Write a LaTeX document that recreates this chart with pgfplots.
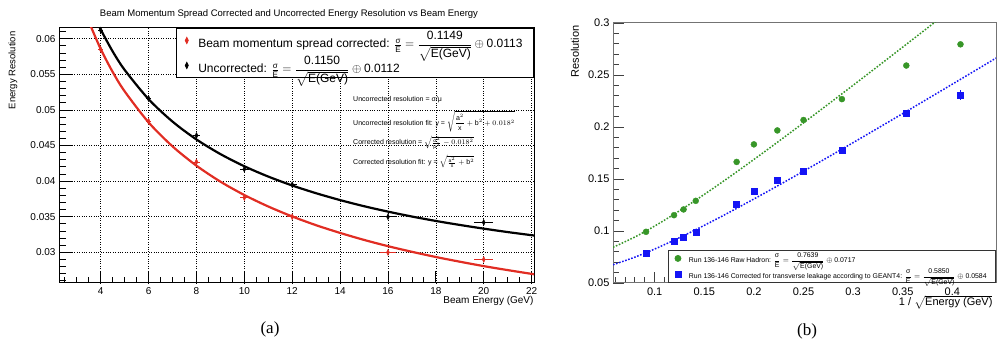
\documentclass[border=0pt]{standalone}
\usepackage{amsmath}
\usepackage{pgfplots}
\pgfplotsset{compat=1.18}
\usepackage{fontspec}
\setmainfont{Liberation Sans}
\newfontfamily\capfont{Liberation Serif}
\definecolor{rred}{RGB}{225,45,35}
\definecolor{ggreen}{RGB}{55,150,40}
\definecolor{bblue}{RGB}{20,20,245}
\newcommand{\fsz}[1]{\fontsize{#1}{#1}\selectfont}

\pgfplotstableread{
x y ex ey
4 0.0585 0.10 0.0004
6 0.0484 0.10 0.0003
8 0.0427 0.15 0.0003
10 0.0377 0.20 0.0003
12 0.0350 0.20 0.0002
16 0.0300 0.35 0.0002
20 0.0290 0.40 0.0002
}\corrdata
\pgfplotstableread{
x y ex ey
4 0.0612 0.10 0.0004
6 0.0516 0.10 0.0003
8 0.0464 0.15 0.0004
10 0.0417 0.20 0.0003
12 0.0395 0.20 0.0002
16 0.0350 0.35 0.0002
20 0.0342 0.40 0.0002
}\uncorrdata
\pgfplotstableread{
x y ey
0.0913 0.0992 0.0010
0.1195 0.1152 0.0010
0.1291 0.1207 0.0010
0.1414 0.1290 0.0010
0.1826 0.1664 0.0010
0.2000 0.1833 0.0010
0.2236 0.1967 0.0010
0.2500 0.2067 0.0012
0.2887 0.2268 0.0015
0.3536 0.2591 0.0015
0.4082 0.2795 0.0015
}\rawdata
\pgfplotstableread{
x y ey
0.0913 0.0788 0.0010
0.1195 0.0900 0.0010
0.1291 0.0938 0.0010
0.1414 0.0992 0.0010
0.1826 0.1258 0.0012
0.2000 0.1379 0.0012
0.2236 0.1488 0.0015
0.2500 0.1577 0.0015
0.2887 0.1776 0.0020
0.3536 0.2130 0.0030
0.4082 0.2309 0.0050
}\leakdata

\begin{document}
\begin{tikzpicture}[x=1pt,y=1pt]
\useasboundingbox (0,0) rectangle (997,347);

% ---------------- panel (a)
\begin{axis}[
  at={(60pt,64pt)}, anchor=south west,
  scale only axis, width=474pt, height=255pt,
  xmin=2.3, xmax=22.1, ymin=0.0257, ymax=0.0615,
  scaled x ticks=false, scaled y ticks=false,
  xtick={4,6,8,10,12,14,16,18,20,22},
  xticklabels={4,6,8,10,12,14,16,18,20,22},
  minor xtick={2.5,3,...,22},
  ytick={0.03,0.035,0.04,0.045,0.05,0.055,0.06},
  yticklabels={0.03,0.035,0.04,0.045,0.05,0.055,0.06},
  minor ytick={0.026,0.027,0.028,0.029,0.031,0.032,0.033,0.034,0.036,0.037,0.038,0.039,0.041,0.042,0.043,0.044,0.046,0.047,0.048,0.049,0.051,0.052,0.053,0.054,0.056,0.057,0.058,0.059,0.061},
  xtick pos=bottom, ytick pos=left,
  tick align=inside,
  major tick length=12pt, minor tick length=6pt,
  every tick/.style={black, line width=0.8pt},
  axis line style={black, line width=1pt},
  grid=major, major grid style={black, dotted, line width=0.7pt},
  tick label style={font=\fsz{10}},
  yticklabel style={xshift=-1pt},
  xticklabel style={yshift=-1pt},
  legend cell align=left,
  legend style={at={(rel axis cs:1,1)}, anchor=north east, draw=black,
    line width=0.9pt, fill=white, font=\fsz{12}, row sep=3pt,
    inner xsep=9pt, inner ysep=1pt,
    /tikz/every odd column/.append style={column sep=8pt}},
]
\addplot[rred, line width=2.2pt, smooth, forget plot] coordinates {
(3.55,0.06202)(4,0.05855)(4.5,0.05533)(5,0.05261)(6,0.04825)(7,0.04488)(8,0.04217)
(9,0.03993)(10,0.03805)(11,0.03644)(12,0.03504)(13,0.03381)(14,0.03273)(15,0.03175)
(16,0.03087)(17,0.03008)(18,0.02935)(19,0.02869)(20,0.02807)(21,0.02751)(22,0.02698)(22.1,0.02693)};
\addplot[black, line width=2.2pt, smooth, forget plot] coordinates {
(3.9,0.06197)(4,0.06128)(4.5,0.05821)(5,0.05562)(6,0.05151)(7,0.04836)(8,0.04585)
(9,0.04380)(10,0.04209)(11,0.04064)(12,0.03939)(13,0.03830)(14,0.03734)(15,0.03648)
(16,0.03572)(17,0.03503)(18,0.03441)(19,0.03385)(20,0.03333)(21,0.03285)(22,0.03241)(22.1,0.03237)};
\addplot[only marks, rred, mark=diamond*, mark size=3pt, mark options={xscale=0.65},
  error bars/.cd, x dir=both, x explicit, y dir=both, y explicit,
  error mark=none, error bar style={rred, line width=0.7pt}]
  table[x=x, y=y, x error=ex, y error=ey] {\corrdata};
\addlegendentry{Beam momentum spread corrected: $\frac{\text{σ}}{\text{E}}=\dfrac{\text{0.1149}}{\sqrt{\text{E(GeV)}}}\oplus\text{0.0113}$}
\addplot[only marks, black, mark=diamond*, mark size=3pt, mark options={xscale=0.65},
  error bars/.cd, x dir=both, x explicit, y dir=both, y explicit,
  error mark=none, error bar style={black, line width=0.7pt}]
  table[x=x, y=y, x error=ex, y error=ey] {\uncorrdata};
\addlegendentry{Uncorrected: $\frac{\text{σ}}{\text{E}}=\dfrac{\text{0.1150}}{\sqrt{\text{E(GeV)}}}\oplus\text{0.0112}$}
\end{axis}

\node[font=\fsz{9.5}] at (289,333) {Beam Momentum Spread Corrected and Uncorrected Energy Resolution vs Beam Energy};
\node[font=\fsz{9.5}, rotate=90, anchor=east] at (13,319) {Energy Resolution};
\node[font=\fsz{10}, anchor=east] at (537,46.3) {Beam Energy (GeV)};
\begin{scope}[every node/.style={font=\fsz{7}, anchor=west, inner sep=0pt}]
\node at (353,247.7) {Uncorrected resolution = σ/μ};
\node at (353,225.3) {Uncorrected resolution fit: y = $\sqrt{\dfrac{\text{a}^2}{\text{x}}+\text{b}^2+0.018^2}$};
\node at (353,204.3) {Corrected resolution = $\sqrt{\frac{\text{σ}^2}{\text{μ}^2}-0.018^2}$};
\node at (353,185.3) {Corrected resolution fit: y = $\sqrt{\frac{\text{a}^2}{\text{x}}+\text{b}^2}$};
\end{scope}
\node[font=\capfont\fsz{17}] at (270,18) {(a)};

% ---------------- panel (b)
\begin{axis}[
  at={(613pt,64pt)}, anchor=south west,
  scale only axis, width=383pt, height=260pt,
  xmin=0.058, xmax=0.444, ymin=0.05, ymax=0.3,
  scaled x ticks=false, scaled y ticks=false,
  xtick={0.1,0.15,0.2,0.25,0.3,0.35,0.4},
  xticklabels={0.1,0.15,0.2,0.25,0.3,0.35,0.4},
  minor xtick={0.06,0.07,0.08,0.09,0.11,0.12,0.13,0.14,0.16,0.17,0.18,0.19,0.21,0.22,0.23,0.24,0.26,0.27,0.28,0.29,0.31,0.32,0.33,0.34,0.36,0.37,0.38,0.39,0.41,0.42,0.43,0.44},
  ytick={0.05,0.1,0.15,0.2,0.25,0.3},
  yticklabels={0.05,0.1,0.15,0.2,0.25,0.3},
  minor ytick={0.06,0.07,0.08,0.09,0.11,0.12,0.13,0.14,0.16,0.17,0.18,0.19,0.21,0.22,0.23,0.24,0.26,0.27,0.28,0.29},
  xtick pos=bottom, ytick pos=left,
  tick align=inside,
  major tick length=11pt, minor tick length=6pt,
  every tick/.style={black!75, line width=0.7pt},
  axis line style={black!55, line width=1pt},
  tick label style={font=\fsz{11}},
  yticklabel style={xshift=0pt},
  xticklabel style={yshift=-1pt},
  legend cell align=left,
  legend style={at={(rel axis cs:1,0)}, anchor=south east, draw=black!80,
    line width=0.8pt, fill=white, font=\fsz{6.9}, row sep=0.5pt,
    inner xsep=7pt, inner ysep=0.5pt,
    /tikz/every odd column/.append style={column sep=6pt}},
]
\addplot[ggreen, line width=1.5pt, dash pattern=on 1.6pt off 1.6pt, smooth, forget plot] coordinates {
(0.058,0.08429)(0.08,0.09421)(0.10,0.10477)(0.12,0.11638)(0.14,0.12876)(0.16,0.14170)
(0.18,0.15507)(0.20,0.16877)(0.22,0.18271)(0.24,0.19686)(0.26,0.21116)(0.28,0.22559)
(0.30,0.24012)(0.32,0.25474)(0.34,0.26944)(0.36,0.28420)(0.38,0.29901)(0.39,0.30643)};
\addplot[bblue, line width=1.5pt, dash pattern=on 1.6pt off 1.6pt, smooth, forget plot] coordinates {
(0.058,0.06754)(0.08,0.07484)(0.10,0.08266)(0.12,0.09132)(0.14,0.10059)(0.16,0.11033)
(0.18,0.12041)(0.20,0.13077)(0.22,0.14133)(0.24,0.15206)(0.26,0.16293)(0.28,0.17390)
(0.30,0.18496)(0.32,0.19610)(0.34,0.20730)(0.36,0.21855)(0.38,0.22984)(0.40,0.24118)
(0.42,0.25254)(0.444,0.26623)};
\addplot[only marks, ggreen, mark=*, mark size=3pt,
  error bars/.cd, y dir=both, y explicit, error mark=none,
  error bar style={ggreen, line width=0.6pt}]
  table[x=x, y=y, y error=ey] {\rawdata};
\addlegendentry{Run 136-146 Raw Hadron: $\dfrac{\text{σ}}{\text{E}}=\dfrac{\text{0.7639}}{\sqrt{\text{E(GeV)}}}\oplus\text{0.0717}$}
\addplot[only marks, bblue, mark=square*, mark size=3pt,
  error bars/.cd, y dir=both, y explicit, error mark=none,
  error bar style={bblue, line width=0.6pt}]
  table[x=x, y=y, y error=ey] {\leakdata};
\addlegendentry{Run 136-146 Corrected for transverse leakage according to GEANT4: $\dfrac{\text{σ}}{\text{E}}=\dfrac{\text{0.5850}}{\sqrt{\text{E(GeV)}}}\oplus\text{0.0584}$}
\end{axis}

\node[font=\fsz{11}, rotate=90, anchor=east] at (575,325) {Resolution};
\node[font=\fsz{11}, anchor=east] at (996,44.7) {1 / $\sqrt{\mbox{Energy (GeV)}}$};
\node[font=\capfont\fsz{17}] at (807,15.3) {(b)};
\end{tikzpicture}
\end{document}
